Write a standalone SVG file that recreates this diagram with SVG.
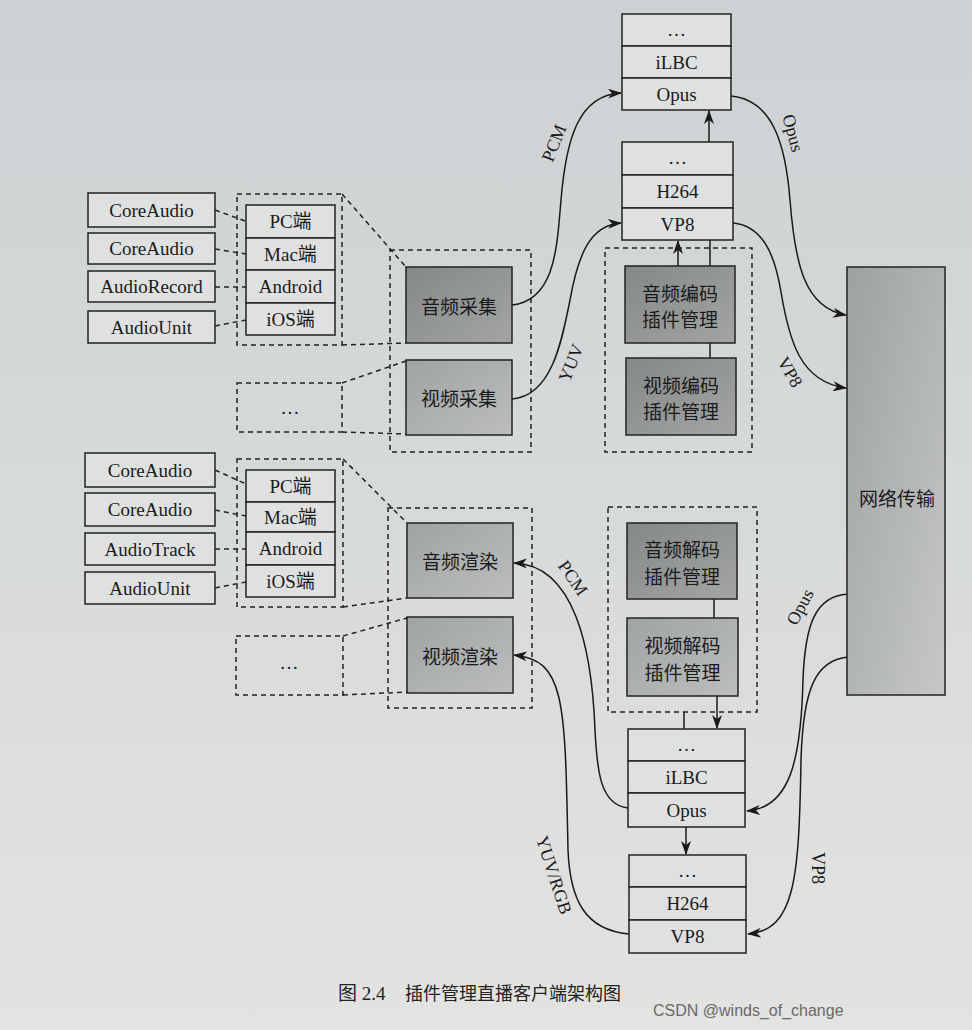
<svg xmlns="http://www.w3.org/2000/svg" width="972" height="1030" viewBox="0 0 972 1030">
<defs>
<linearGradient id="bg" x1="0" y1="0" x2="0" y2="1">
<stop offset="0" stop-color="#cdd1d3"/>
<stop offset="0.5" stop-color="#d7dada"/>
<stop offset="1" stop-color="#e3e3e1"/>
</linearGradient>
<linearGradient id="dark" x1="0" y1="0" x2="1" y2="1">
<stop offset="0" stop-color="#858888"/>
<stop offset="1" stop-color="#a3a5a5"/>
</linearGradient>
<linearGradient id="mid" x1="0" y1="0" x2="1" y2="1">
<stop offset="0" stop-color="#a0a3a3"/>
<stop offset="1" stop-color="#bcbebe"/>
</linearGradient>
<linearGradient id="net" x1="0" y1="0" x2="1" y2="1">
<stop offset="0" stop-color="#9ea1a1"/>
<stop offset="1" stop-color="#c6c8c8"/>
</linearGradient>
<marker id="arr" markerUnits="userSpaceOnUse" markerWidth="14" markerHeight="10" refX="13" refY="5" orient="auto">
<path d="M0,0 L14,5 L0,10 L4,5 z" fill="#1a1a1a"/>
</marker>
</defs>
<style>
.box{fill:#dfe1e1;stroke:#222;stroke-width:1.5}
.dk{fill:url(#dark);stroke:#222;stroke-width:1.5}
.md{fill:url(#mid);stroke:#222;stroke-width:1.5}
.dash{fill:none;stroke:#222;stroke-width:1.5;stroke-dasharray:5 4}
.ln{fill:none;stroke:#1a1a1a;stroke-width:1.5}
.t{font-family:"Liberation Serif","Noto Sans CJK SC",serif;font-size:19px;fill:#1a1a1a;text-anchor:middle;dominant-baseline:central}
.c{font-family:"Noto Sans CJK SC",sans-serif;font-size:19px;fill:#1a1a1a;text-anchor:middle;dominant-baseline:central}
.lb{font-family:"Liberation Serif",serif;font-size:18px;fill:#1a1a1a;text-anchor:middle;dominant-baseline:central}
</style>
<rect x="0" y="0" width="972" height="1030" fill="url(#bg)"/>

<!-- connectors -->
<g id="connectors">
<!-- dashed links API -> platforms (top) -->
<path class="dash" d="M215,210 L245,221"/>
<path class="dash" d="M215,249 L246,254"/>
<path class="dash" d="M215,287 L246,287"/>
<path class="dash" d="M215,326 L246,320"/>
<!-- dashed links API -> platforms (bottom) -->
<path class="dash" d="M215,470 L246,484"/>
<path class="dash" d="M215,510 L246,516"/>
<path class="dash" d="M215,549 L246,549"/>
<path class="dash" d="M215,588 L246,582"/>
<!-- dashed projections to capture/render boxes -->
<path class="dash" d="M342,194 L406,267"/>
<path class="dash" d="M342,345 L406,343"/>
<path class="dash" d="M342,383 L406,361"/>
<path class="dash" d="M342,432 L406,434"/>
<path class="dash" d="M343,459 L407,523"/>
<path class="dash" d="M343,607 L407,598"/>
<path class="dash" d="M343,636 L407,618"/>
<path class="dash" d="M343,695 L407,692"/>
<!-- encode side -->
<path class="ln" d="M678,266 L678,241" marker-end="url(#arr)"/>
<path class="ln" d="M710,266 L710,240"/>
<path class="ln" d="M710,343 L710,358"/>
<path class="ln" d="M709,142 L709,111" marker-end="url(#arr)"/>
<!-- decode side -->
<path class="ln" d="M714,599 L714,618"/>
<path class="ln" d="M717,696 L717,728" marker-end="url(#arr)"/>
<path class="ln" d="M684,712 L684,729"/>
<path class="ln" d="M686,827 L686,854" marker-end="url(#arr)"/>
<!-- curves -->
<path class="ln" d="M512,305 C556,300 557,245 561,200 C566,140 578,95 621,93" marker-end="url(#arr)"/>
<path class="ln" d="M512,399 C552,396 562,340 570,300 C578,255 590,225 621,223" marker-end="url(#arr)"/>
<path class="ln" d="M731,96 C775,100 786,150 790,200 C795,265 805,308 846,315" marker-end="url(#arr)"/>
<path class="ln" d="M733,223 C766,226 776,262 781,292 C789,340 800,382 846,388" marker-end="url(#arr)"/>
<path class="ln" d="M848,594 C815,596 805,625 803,680 C801,760 790,808 747,811" marker-end="url(#arr)"/>
<path class="ln" d="M848,657 C815,660 803,690 801,760 C799,880 795,930 748,934" marker-end="url(#arr)"/>
<path class="ln" d="M628,808 C600,805 597,770 595,730 C592,650 575,565 514,563" marker-end="url(#arr)"/>
<path class="ln" d="M629,934 C585,930 570,900 568,850 C565,700 565,660 514,655" marker-end="url(#arr)"/>
<!-- labels -->
<text class="lb" transform="translate(554,143) rotate(-68)">PCM</text>
<text class="lb" transform="translate(571,363) rotate(-68)">YUV</text>
<text class="lb" transform="translate(793,133) rotate(75)">Opus</text>
<text class="lb" transform="translate(790,372) rotate(60)">VP8</text>
<text class="lb" transform="translate(800,607) rotate(-62)">Opus</text>
<text class="lb" transform="translate(818,868) rotate(90)">VP8</text>
<text class="lb" transform="translate(573,578) rotate(55)">PCM</text>
<text class="lb" transform="translate(554,875) rotate(72)">YUV/RGB</text>
</g>

<!-- top-left API boxes -->
<g id="api-coreaudio-pc-cap"><rect class="box" x="88" y="193" width="127" height="34"/><text class="t" x="151.5" y="210">CoreAudio</text></g>
<g id="api-coreaudio-mac-cap"><rect class="box" x="88" y="233" width="127" height="31"/><text class="t" x="151.5" y="248.5">CoreAudio</text></g>
<g id="api-audiorecord"><rect class="box" x="88" y="271" width="127" height="31"/><text class="t" x="151.5" y="286.5">AudioRecord</text></g>
<g id="api-audiounit-cap"><rect class="box" x="88" y="311" width="127" height="32"/><text class="t" x="151.5" y="327">AudioUnit</text></g>

<!-- top platform stack -->
<g id="platforms-capture">
<rect class="dash" x="237" y="194" width="105" height="151"/>
<rect class="box" x="246" y="205" width="89" height="33"/><text class="t" x="290.5" y="221.5">PC端</text>
<rect class="box" x="246" y="238" width="89" height="32"/><text class="t" x="290.5" y="254">Mac端</text>
<rect class="box" x="246" y="270" width="89" height="33"/><text class="t" x="290.5" y="286.5">Android</text>
<rect class="box" x="246" y="303" width="89" height="32"/><text class="t" x="290.5" y="319">iOS端</text>
</g>
<g id="other-capture"><rect class="dash" x="237" y="383" width="105" height="49"/><text class="t" x="290" y="407">…</text></g>

<!-- bottom-left API boxes -->
<g id="api-coreaudio-pc-ren"><rect class="box" x="85" y="453" width="130" height="34"/><text class="t" x="150" y="470">CoreAudio</text></g>
<g id="api-coreaudio-mac-ren"><rect class="box" x="85" y="493" width="130" height="33"/><text class="t" x="150" y="509.5">CoreAudio</text></g>
<g id="api-audiotrack"><rect class="box" x="85" y="533" width="130" height="32"/><text class="t" x="150" y="549">AudioTrack</text></g>
<g id="api-audiounit-ren"><rect class="box" x="85" y="572" width="130" height="32"/><text class="t" x="150" y="588">AudioUnit</text></g>

<g id="platforms-render">
<rect class="dash" x="237" y="459" width="106" height="148"/>
<rect class="box" x="246" y="470" width="89" height="32"/><text class="t" x="290.5" y="486">PC端</text>
<rect class="box" x="246" y="502" width="89" height="30"/><text class="t" x="290.5" y="517">Mac端</text>
<rect class="box" x="246" y="532" width="89" height="33"/><text class="t" x="290.5" y="548.5">Android</text>
<rect class="box" x="246" y="565" width="89" height="32"/><text class="t" x="290.5" y="581">iOS端</text>
</g>
<g id="other-render"><rect class="dash" x="236" y="636" width="107" height="59"/><text class="t" x="289" y="662">…</text></g>

<!-- capture -->
<g id="capture">
<rect class="dash" x="390" y="250" width="141" height="202"/>
<rect class="dk" x="406" y="267" width="106" height="76"/><text class="c" x="459" y="305">音频采集</text>
<rect class="md" x="406" y="360" width="106" height="75"/><text class="c" x="459" y="397.5">视频采集</text>
</g>

<!-- render -->
<g id="render">
<rect class="dash" x="388" y="508" width="144" height="200"/>
<rect class="md" x="407" y="523" width="106" height="75"/><text class="c" x="460" y="560.5">音频渲染</text>
<rect class="md" x="407" y="617" width="106" height="76"/><text class="c" x="460" y="655">视频渲染</text>
</g>

<!-- encode plugins -->
<g id="encode-plugins">
<rect class="dash" x="605" y="248" width="147" height="204"/>
<rect class="dk" x="625" y="266" width="110" height="77"/><text class="c" x="680" y="292">音频编码</text><text class="c" x="680" y="318">插件管理</text>
<rect class="dk" x="626" y="358" width="110" height="77"/><text class="c" x="681" y="384">视频编码</text><text class="c" x="681" y="410">插件管理</text>
</g>

<!-- decode plugins -->
<g id="decode-plugins">
<rect class="dash" x="608" y="507" width="149" height="205"/>
<rect class="dk" x="627" y="523" width="110" height="76"/><text class="c" x="682" y="548">音频解码</text><text class="c" x="682" y="575">插件管理</text>
<rect class="md" x="627" y="618" width="111" height="78"/><text class="c" x="682.5" y="644">视频解码</text><text class="c" x="682.5" y="671">插件管理</text>
</g>

<!-- top audio codec stack -->
<g id="audio-codecs-enc">
<rect class="box" x="622" y="14" width="109" height="32"/><text class="t" x="676.5" y="29">…</text>
<rect class="box" x="622" y="46" width="109" height="32"/><text class="t" x="676.5" y="62">iLBC</text>
<rect class="box" x="622" y="78" width="109" height="32"/><text class="t" x="676.5" y="94">Opus</text>
</g>
<g id="video-codecs-enc">
<rect class="box" x="622" y="142" width="111" height="33"/><text class="t" x="677.5" y="157">…</text>
<rect class="box" x="622" y="175" width="111" height="33"/><text class="t" x="677.5" y="191.5">H264</text>
<rect class="box" x="622" y="208" width="111" height="32"/><text class="t" x="677.5" y="224">VP8</text>
</g>

<!-- bottom codec stacks -->
<g id="audio-codecs-dec">
<rect class="box" x="628" y="729" width="117" height="32"/><text class="t" x="686.5" y="744">…</text>
<rect class="box" x="628" y="761" width="117" height="32"/><text class="t" x="686.5" y="777">iLBC</text>
<rect class="box" x="628" y="793" width="117" height="34"/><text class="t" x="686.5" y="810">Opus</text>
</g>
<g id="video-codecs-dec">
<rect class="box" x="629" y="855" width="117" height="32"/><text class="t" x="687.5" y="870">…</text>
<rect class="box" x="629" y="887" width="117" height="33"/><text class="t" x="687.5" y="903.5">H264</text>
<rect class="box" x="629" y="920" width="117" height="33"/><text class="t" x="687.5" y="936.5">VP8</text>
</g>

<!-- network -->
<g id="network">
<rect x="847" y="267" width="98" height="428" fill="url(#net)" stroke="#222" stroke-width="1.5"/>
<text class="c" x="897" y="497">网络传输</text>
</g>

<!-- caption -->
<g id="caption">
<text x="338" y="1000" font-family="'Liberation Serif','Noto Sans CJK SC',serif" font-size="19" fill="#222">图 2.4</text>
<text x="405" y="1000" font-family="'Noto Sans CJK SC',sans-serif" font-size="18" fill="#222">插件管理直播客户端架构图</text>
<text x="653" y="1016" font-family="'Liberation Sans',sans-serif" font-size="16" fill="#6a6a6a">CSDN @winds_of_change</text>
</g>
</svg>
